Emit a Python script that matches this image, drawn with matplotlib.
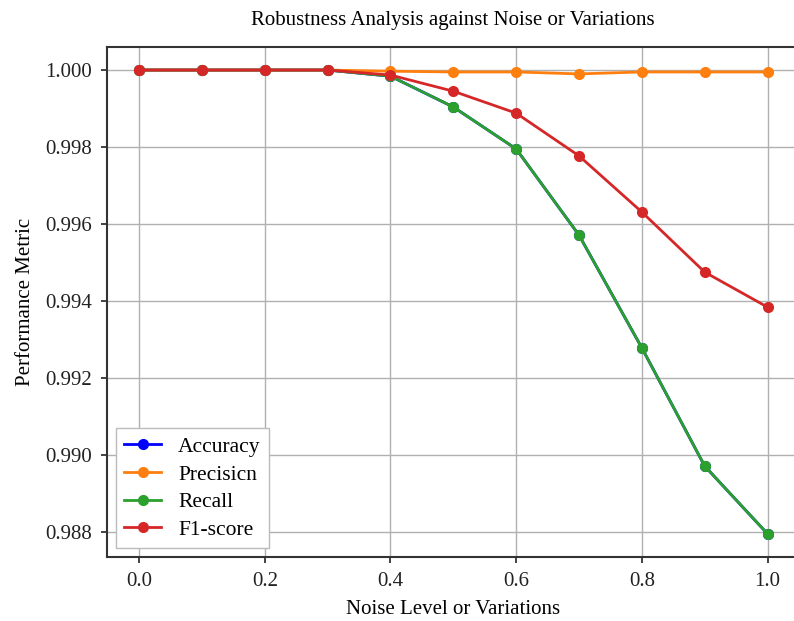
import matplotlib.pyplot as plt

plt.rcParams['font.family'] = ['Liberation Serif', 'DejaVu Serif']

noise_levels = [0.0, 0.1, 0.2, 0.3, 0.4, 0.5, 0.6, 0.7, 0.8, 0.9, 1.0]
accuracy = [1.0, 1.0, 1.0, 1.0, 0.99984, 0.99904, 0.99795, 0.99571, 0.99278, 0.98971, 0.98795]
precision = [1.0, 1.0, 1.0, 1.0, 0.99997, 0.99995, 0.99995, 0.9999, 0.99995, 0.99995, 0.99995]
recall = [1.0, 1.0, 1.0, 1.0, 0.99984, 0.99904, 0.99795, 0.99571, 0.99278, 0.98971, 0.98795]
f1_score = [1.0, 1.0, 1.0, 1.0, 0.99987, 0.99945, 0.99888, 0.99777, 0.99631, 0.99475, 0.99384]

fig = plt.figure(figsize=(7.94, 6.21), dpi=100)
ax = fig.add_axes([0.1348, 0.1031, 0.8715, 0.8213])

ax.plot(noise_levels, accuracy, marker='o', color='blue', lw=2, ms=7, label='Accuracy')
ax.plot(noise_levels, precision, marker='o', color='#ff7f0e', lw=2, ms=7, label='Precisicn')
ax.plot(noise_levels, recall, marker='o', color='#2ca02c', lw=2, ms=7, label='Recall')
ax.plot(noise_levels, f1_score, marker='o', color='#d62728', lw=2, ms=7, label='F1-score')

ax.set_xlim(-0.051, 1.05)
ax.set_ylim(0.98735, 1.0006)
ax.set_xticks([0.0, 0.2, 0.4, 0.6, 0.8, 1.0])
ax.set_yticks([0.988, 0.990, 0.992, 0.994, 0.996, 0.998, 1.000])
ax.yaxis.set_major_formatter(plt.FormatStrFormatter('%.3f'))
ax.grid(True, color='#b0b0b0', lw=1)

for s in ax.spines.values():
    s.set_color('#333333')
    s.set_linewidth(1.5)
ax.tick_params(labelsize=15, colors='#222222', width=1.2, length=4, pad=7)

ax.set_xlabel('Noise Level or Variations', fontsize=15, labelpad=6)
ax.set_ylabel('Performance Metric', fontsize=15, labelpad=7)
ax.set_title('Robustness Analysis against Noise or Variations', fontsize=15, pad=16)

leg = ax.legend(loc='lower left', fontsize=15.5, framealpha=1, handlelength=1.7,
                borderaxespad=0.4, fancybox=False, labelspacing=0.35)
leg.get_frame().set_edgecolor('#bbbbbb')

fig.savefig('out.png', dpi=100)
